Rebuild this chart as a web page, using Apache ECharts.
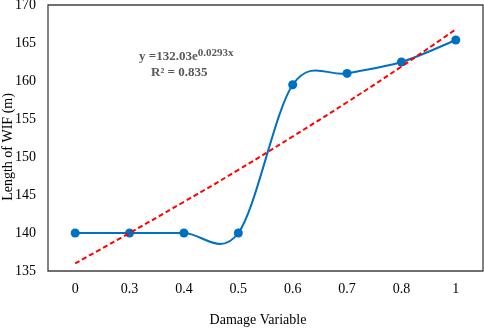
<!DOCTYPE html>
<html>
<head>
<meta charset="utf-8">
<script src="https://cdn.jsdelivr.net/npm/echarts@6/dist/echarts.min.js"></script>
<style>
  html, body { margin: 0; padding: 0; background: #fff; }
  #main { width: 484px; height: 328px; }
</style>
</head>
<body>
<div id="main"></div>
<script>
// data
const damage = ['0', '0.3', '0.4', '0.5', '0.6', '0.7', '0.8', '1']
const wifLength = [140, 140, 140, 140, 159.5, 161, 162.5, 165.4]
// exponential trend line
const trendValues = [136, 140, 144.1, 148.3, 152.7, 157.2, 161.9, 166.8]

const font = 'Liberation Serif'
const blue = '#0070C0'

var myChart = echarts.init(document.getElementById('main'))

// Excel-like smoothed segment (Catmull-Rom as bezier) between point i and i+1
function renderSmooth(params, api) {
  const i = params.dataIndex
  const n = wifLength.length
  if (i >= n - 1) return null
  const pt = k => api.coord([Math.max(0, Math.min(n - 1, k)), wifLength[Math.max(0, Math.min(n - 1, k))]])
  const p0 = pt(i - 1), p1 = pt(i), p2 = pt(i + 1), p3 = pt(i + 2)
  return {
    type: 'bezierCurve',
    shape: {
      x1: p1[0], y1: p1[1],
      x2: p2[0], y2: p2[1],
      cpx1: p1[0] + (p2[0] - p0[0]) / 6,
      cpy1: p1[1] + (p2[1] - p0[1]) / 6,
      cpx2: p2[0] - (p3[0] - p1[0]) / 6,
      cpy2: p2[1] - (p3[1] - p1[1]) / 6
    },
    style: { stroke: blue, lineWidth: 2, fill: null }
  }
}

const options = {
  animation: false,
  grid: {
    left: 48,
    right: 1,
    top: 5,
    bottom: 57,
    outerBoundsMode: 'none',
    show: true,
    borderColor: '#404040',
    borderWidth: 1.3
  },
  xAxis: {
    type: 'category',
    data: damage,
    boundaryGap: true,
    axisLine: { show: false },
    axisTick: { show: false },
    axisLabel: { fontFamily: font, fontSize: 14, color: '#000', margin: 11 }
  },
  yAxis: {
    type: 'value',
    min: 135,
    max: 170,
    interval: 5,
    axisLine: { show: false },
    axisTick: { show: false },
    splitLine: { show: false },
    axisLabel: { fontFamily: font, fontSize: 14, color: '#000', margin: 12 }
  },
  graphic: [
    {
      // y axis title, placed like the original (a bit below the plot centre)
      type: 'text',
      x: 8,
      y: 147,
      rotation: Math.PI / 2,
      style: {
        text: 'Length of WIF (m)',
        fontFamily: font,
        fontSize: 14,
        fill: '#000',
        align: 'center',
        verticalAlign: 'middle'
      }
    },
    {
      type: 'text',
      x: 258,
      y: 320,
      style: {
        text: 'Damage Variable',
        fontFamily: font,
        fontSize: 14,
        fill: '#000',
        align: 'center',
        verticalAlign: 'middle'
      }
    },
    {
      type: 'text',
      left: 139,
      top: 48,
      style: {
        text: '{b|y =132.03e}{s|0.0293x}',
        rich: {
          b: { fontFamily: font, fontSize: 13, fontWeight: 'bold', fill: '#595959' },
          s: { fontFamily: font, fontSize: 11, fontWeight: 'bold', fill: '#595959', verticalAlign: 'top', padding: [0, 0, 6, 0] }
        }
      }
    },
    {
      type: 'text',
      left: 151,
      top: 66,
      style: {
        text: 'R² = 0.835',
        fontFamily: font,
        fontSize: 13,
        fontWeight: 'bold',
        fill: '#595959'
      }
    }
  ],
  series: [
    {
      type: 'custom',
      renderItem: renderSmooth,
      data: wifLength.map((v, i) => [i, v]),
      z: 2
    },
    {
      type: 'line',
      data: wifLength,
      symbol: 'circle',
      symbolSize: 9,
      lineStyle: { width: 0, opacity: 0 },
      itemStyle: { color: blue },
      z: 3
    },
    {
      type: 'line',
      data: trendValues,
      smooth: true,
      symbol: 'none',
      lineStyle: { color: '#FF0000', width: 2, type: [5, 3] },
      z: 4
    }
  ]
}

myChart.setOption(options)
</script>
</body>
</html>
